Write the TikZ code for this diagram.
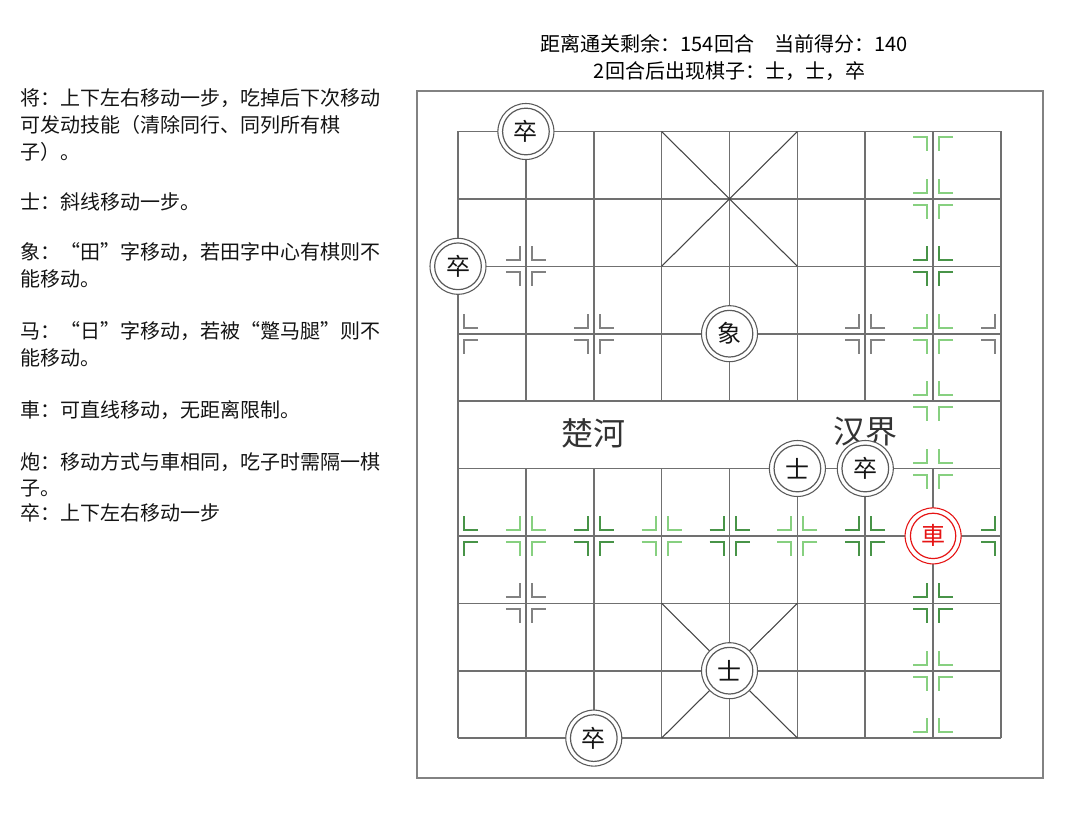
\documentclass[tikz,border=0pt]{standalone}
\usepackage{fontspec}
\setmainfont{Noto Sans CJK SC}
\definecolor{gridc}{RGB}{112,112,112}
\definecolor{framec}{RGB}{130,130,130}
\definecolor{diagc}{RGB}{70,70,70}
\definecolor{graymk}{RGB}{130,130,130}
\definecolor{lightg}{RGB}{135,208,128}
\definecolor{darkg}{RGB}{72,148,72}
\definecolor{piecec}{RGB}{90,90,90}
\definecolor{textc}{RGB}{20,20,20}
\definecolor{redc}{RGB}{230,20,20}
\newcommand{\brk}[5]{\draw[mk,#5] ({458+67.875*#1+#3*20},{131.5+67.4*#2+#4*6}) -- ({458+67.875*#1+#3*6},{131.5+67.4*#2+#4*6}) -- ({458+67.875*#1+#3*6},{131.5+67.4*#2+#4*20});}
\newcommand{\fullmk}[3]{\brk{#1}{#2}{-1}{-1}{#3}\brk{#1}{#2}{1}{-1}{#3}\brk{#1}{#2}{-1}{1}{#3}\brk{#1}{#2}{1}{1}{#3}}
\begin{document}
\begin{tikzpicture}[x=0.75pt,y=-0.75pt,
  gridline/.style={draw=gridc,line width=1.2pt},
  diagline/.style={draw=diagc,line width=0.8pt},
  mk/.style={line width=1.5pt},
  info/.style={anchor=west,inner sep=0pt,font=\fontsize{15}{18}\selectfont,text=textc},
  head/.style={inner sep=0pt,font=\fontsize{15}{18}\selectfont,text=black},
  river/.style={inner sep=0pt,font=\fontsize{24}{28}\selectfont,text=black!80},
  piece/.style={circle,minimum size=42pt,inner sep=0pt,draw=piecec,line width=0.8pt,fill=white,font=\fontsize{18}{20}\selectfont,text=textc},
  redpiece/.style={piece,draw=redc,text=redc}]
\useasboundingbox (0,0) rectangle (1089,820);
% header
\node[head] (h1) at (724,44) {距离通关剩余：154回合　当前得分：140};
\node[head] (h2) at (729.5,71) {2回合后出现棋子：士，士，卒};
% rules
\node[info] (t1) at (20,98) {将：上下左右移动一步，吃掉后下次移动};
\node[info] (t2) at (20,125) {可发动技能（清除同行、同列所有棋};
\node[info] (t3) at (20,152) {子）。};
\node[info] (t4) at (20,202) {士：斜线移动一步。};
\node[info] (t5) at (20,252) {象：“田”字移动，若田字中心有棋则不};
\node[info] (t6) at (20,279) {能移动。};
\node[info] (t7) at (20,331) {马：“日”字移动，若被“蹩马腿”则不};
\node[info] (t8) at (20,358) {能移动。};
\node[info] (t9) at (20,410) {車：可直线移动，无距离限制。};
\node[info] (t10) at (20,462) {炮：移动方式与車相同，吃子时需隔一棋};
\node[info] (t11) at (20,489) {子。};
\node[info] (t12) at (20,513) {卒：上下左右移动一步};
% board frame
\draw[framec,line width=0.8pt] (417,91) rectangle (1043,778);
% grid
\foreach \r in {0,...,9} {\draw[gridline] (458,{131.5+67.4*\r}) -- (1001,{131.5+67.4*\r});}
\foreach \c in {0,8} {\draw[gridline] ({458+67.875*\c},131.5) -- ({458+67.875*\c},738.1);}
\foreach \c in {1,...,7} {
  \draw[gridline] ({458+67.875*\c},131.5) -- ({458+67.875*\c},401.1);
  \draw[gridline] ({458+67.875*\c},468.5) -- ({458+67.875*\c},738.1);}
% palaces
\draw[diagline] (661.6,131.5) -- (797.4,266.3) (797.4,131.5) -- (661.6,266.3);
\draw[diagline] (661.6,603.3) -- (797.4,738.1) (797.4,603.3) -- (661.6,738.1);
% river
\node[river] (chu) at (593,433) {楚河};
\node[river] (han) at (865,432) {汉界};
% gray markers
\foreach \c/\r in {1/2,2/3,6/3,1/7} {\fullmk{\c}{\r}{graymk}}
\brk{0}{3}{1}{-1}{graymk}\brk{0}{3}{1}{1}{graymk}
\brk{8}{3}{-1}{-1}{graymk}\brk{8}{3}{-1}{1}{graymk}
% light green markers
\foreach \c/\r in {7/1,7/3,7/4,7/5,7/8,1/6,3/6,5/6} {\fullmk{\c}{\r}{lightg}}
\brk{7}{0}{-1}{1}{lightg}\brk{7}{0}{1}{1}{lightg}
\brk{7}{9}{-1}{-1}{lightg}\brk{7}{9}{1}{-1}{lightg}
% dark green markers
\foreach \c/\r in {7/2,7/7,2/6,4/6,6/6} {\fullmk{\c}{\r}{darkg}}
\brk{0}{6}{1}{-1}{darkg}\brk{0}{6}{1}{1}{darkg}
\brk{8}{6}{-1}{-1}{darkg}\brk{8}{6}{-1}{1}{darkg}
% pieces
\node[piece] (p1) at (525.9,131.5) {卒};
\node[piece] (p2) at (458,266.3) {卒};
\node[piece] (p3) at (729.5,333.7) {象};
\node[piece] (p4) at (797.4,468.5) {士};
\node[piece] (p5) at (865.3,468.5) {卒};
\node[redpiece] (p6) at (933.1,535.9) {車};
\node[piece] (p7) at (729.5,670.7) {士};
\node[piece] (p8) at (593.8,738.1) {卒};
\foreach \p in {p1,p2,p3,p4,p5,p7,p8} {\draw[piecec,line width=0.9pt] (\p.center) circle[radius=17.5pt];}
\draw[redc,line width=0.9pt] (p6.center) circle[radius=17pt];
\end{tikzpicture}
\end{document}
